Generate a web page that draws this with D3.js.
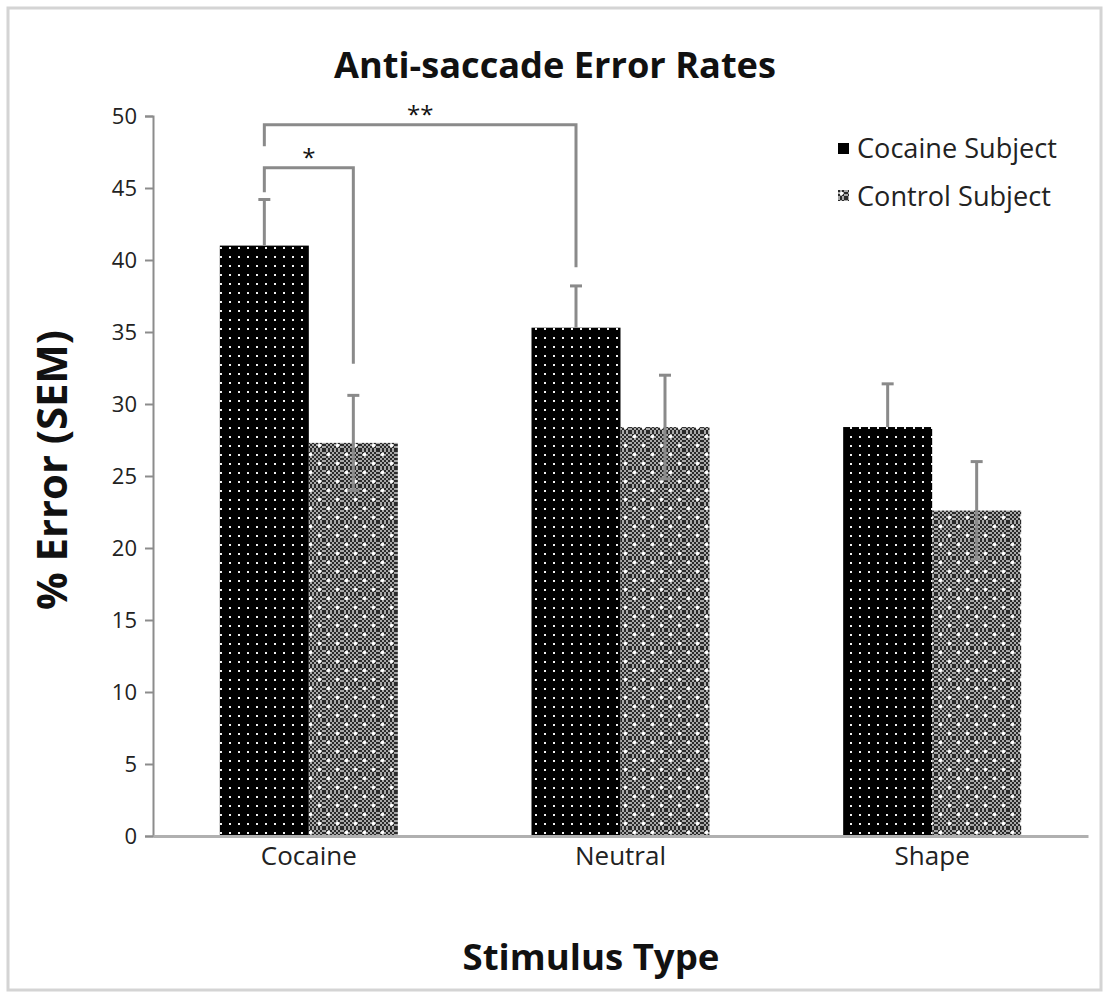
<!DOCTYPE html>
<html><head><meta charset="utf-8">
<script src="https://cdn.jsdelivr.net/npm/d3@7"></script>
<style>body{margin:0;background:#fff}svg{display:block}text{font-family:"Open Sans",Lato,sans-serif}</style>
</head><body>
<script>
const categories = ["Cocaine","Neutral","Shape"];
const seriesNames = ["Cocaine Subject","Control Subject"];
const cocaineVals = [41.0, 35.3, 28.4];
const cocaineErr = [3.2, 2.9, 3.0];
const controlVals = [27.3, 28.4, 22.6];
const controlErr = [3.3, 3.6, 3.4];
const yTicks = [0,5,10,15,20,25,30,35,40,45,50];

const W=1104,H=993;
const svg=d3.select("body").append("svg").attr("width",W).attr("height",H);
function fit(sel,target){const n=sel.node();const w=n.getComputedTextLength();const fs=parseFloat(sel.attr("font-size"));if(w>0)sel.attr("font-size",fs*target/w);}
const defs=svg.append("defs");
const p1=defs.append("pattern").attr("id","pBlack").attr("patternUnits","userSpaceOnUse").attr("width",9).attr("height",9);
p1.append("rect").attr("width",9).attr("height",9).attr("fill","#000");
p1.append("rect").attr("x",4).attr("y",4).attr("width",2).attr("height",2).attr("fill","#fff").attr("opacity",0.95);
const p2=defs.append("pattern").attr("id","pGray").attr("patternUnits","userSpaceOnUse").attr("width",18).attr("height",18);
p2.append("rect").attr("width",18).attr("height",18).attr("fill","#a8a8a8");
for(let i=0;i<9;i++)for(let j=0;j<9;j++){ if((i+j)%2===0) p2.append("rect").attr("x",i*2).attr("y",j*2).attr("width",2).attr("height",2).attr("fill","#2a2a2a"); }
p2.append("circle").attr("cx",4.5).attr("cy",4.5).attr("r",1.8).attr("fill","#fff");
p2.append("circle").attr("cx",13.5).attr("cy",13.5).attr("r",1.8).attr("fill","#fff");

svg.append("rect").attr("x",8).attr("y",8).attr("width",1093).attr("height",982).attr("fill","none").attr("stroke","#d4d4d4").attr("stroke-width",3);

const x0=153,x1=1088,yTop=116,yBot=836;
const x=d3.scaleBand().domain(categories).range([x0,x1]);
const y=d3.scaleLinear().domain([0,50]).range([yBot,yTop]);
const barW=89;

const g=svg.append("g");
const yAx=g.append("g").attr("transform",`translate(${x0},0)`).call(d3.axisLeft(y).tickValues(yTicks).tickSize(8).tickPadding(8));
yAx.select(".domain").attr("stroke","#8c8c8c").attr("stroke-width",2);
yAx.selectAll(".tick line").attr("stroke","#8c8c8c").attr("stroke-width",2);
yAx.selectAll("text").attr("font-size",22).attr("fill","#222").style("font-family","'Open Sans',Lato,sans-serif");

const data=categories.map((c,i)=>({c,i,v:[cocaineVals[i],controlVals[i]],e:[cocaineErr[i],controlErr[i]]}));
data.forEach(d=>{
  const cx=x(d.c)+x.bandwidth()/2;
  [0,1].forEach(k=>{
    const bx=cx-barW+k*barW;
    g.append("rect").attr("x",bx).attr("y",y(d.v[k])).attr("width",barW).attr("height",yBot-y(d.v[k])).attr("fill",k===0?"url(#pBlack)":"url(#pGray)");
  });
});
const xAx=g.append("g").attr("transform",`translate(0,${yBot})`).call(d3.axisBottom(x).tickSize(0).tickPadding(11));
xAx.select(".domain").attr("stroke","#b0b0b0").attr("stroke-width",3);
xAx.selectAll("text").attr("font-size",26).attr("fill","#222").style("font-family","'Open Sans',Lato,sans-serif");

const eg=g.append("g").attr("stroke","#8a8a8a").attr("stroke-width",3).attr("fill","none");
data.forEach(d=>{
  const cx=x(d.c)+x.bandwidth()/2;
  [0,1].forEach(k=>{
    const ex=cx-barW/2+k*barW;
    const top=y(d.v[k]+d.e[k]);
    const low=k===0?y(d.v[k]):y(d.v[k]-d.e[k]);
    eg.append("line").attr("x1",ex).attr("x2",ex).attr("y1",top).attr("y2",low);
    eg.append("line").attr("x1",ex-6).attr("x2",ex+6).attr("y1",top).attr("y2",top);
    if(k===1) eg.append("line").attr("x1",ex-6).attr("x2",ex+6).attr("y1",low).attr("y2",low);
  });
});

const bx0=x("Cocaine")+x.bandwidth()/2-barW/2;
const bx1=x("Cocaine")+x.bandwidth()/2+barW/2;
const bx2=x("Neutral")+x.bandwidth()/2-barW/2;
const sg=g.append("g").attr("stroke","#8a8a8a").attr("stroke-width",3).attr("fill","none");
sg.append("path").attr("d",`M${bx0},${y(44.7)}V${y(46.4)}H${bx1}V${y(32.8)}`);
sg.append("path").attr("d",`M${bx0},${y(47.9)}V${y(49.4)}H${bx2}V${y(39.5)}`);
g.append("text").attr("x",(bx0+bx1)/2).attr("y",y(46.5)).attr("text-anchor","middle").attr("font-size",24).attr("fill","#111").text("*");
g.append("text").attr("x",(bx0+bx2)/2).attr("y",y(49.5)).attr("text-anchor","middle").attr("font-size",24).attr("fill","#111").text("**");

const lg=svg.append("g");
seriesNames.forEach((s,i)=>{
  lg.append("rect").attr("x",838).attr("y",143+i*47).attr("width",11).attr("height",11).attr("fill",i===0?"#000":"url(#pGray)");
  const t=lg.append("text").attr("x",857).attr("y",149+i*47).attr("dy","0.35em").attr("font-size",24).attr("fill","#222").text(s);
  fit(t,i===0?200:194);
});

const tt=svg.append("text").attr("x",555).attr("y",65).attr("dy","0.35em").attr("text-anchor","middle").attr("font-size",30).attr("font-weight","bold").attr("fill","#111").text("Anti-saccade Error Rates");
fit(tt,442);
const xt=svg.append("text").attr("x",591).attr("y",957).attr("dy","0.35em").attr("text-anchor","middle").attr("font-size",34).attr("font-weight","bold").attr("fill","#111").text("Stimulus Type");
fit(xt,257);
const yt=svg.append("text").attr("transform","translate(52,470) rotate(-90)").attr("dy","0.35em").attr("text-anchor","middle").attr("font-size",34).attr("font-weight","bold").attr("fill","#111").text("% Error (SEM)");
fit(yt,280);
</script>
</body></html>
